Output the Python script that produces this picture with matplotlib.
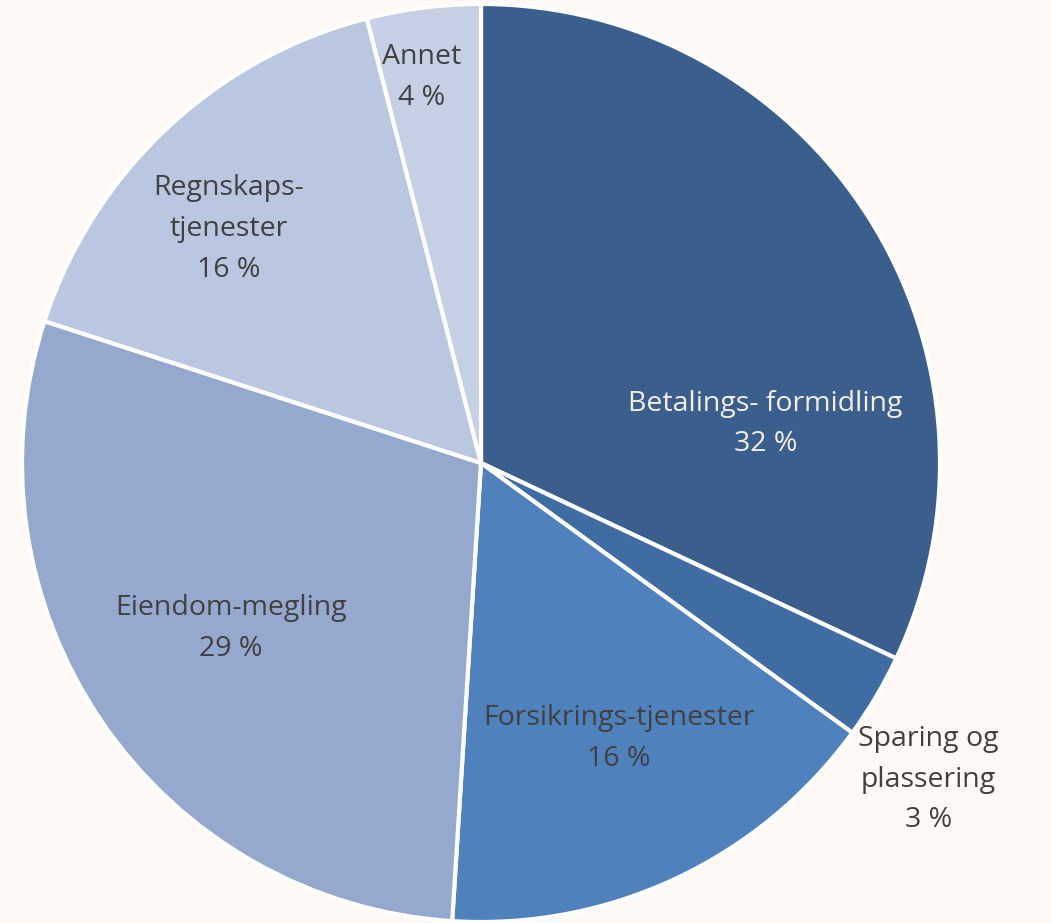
import numpy as np
import matplotlib.pyplot as plt

plt.rcParams['font.family'] = ['Open Sans', 'DejaVu Sans']

# Andel av inntekter
labels = ['Betalings- formidling', 'Sparing og\nplassering', 'Forsikrings-tjenester',
          'Eiendom-megling', 'Regnskaps-\ntjenester', 'Annet']
values = [32, 3, 16, 29, 16, 4]
colors = ['#3A5F8C', '#3E6CA3', '#4F81BD', '#95A9CE', '#B9C7E0', '#C5D0E4']
text_colors = ['#F2EEE6', '#404040', '#404040', '#404040', '#404040', '#404040']

# label placement relative to pie centre, in units of radius
label_pos = [(0.62, 0.085), (0.975, -0.69), (0.30, -0.60), (-0.545, -0.36),
             (-0.55, 0.51), (-0.13, 0.84)]

bg = '#FEF9F5'
fig = plt.figure(figsize=(10.51, 9.23), dpi=100, facecolor=bg)
ax = fig.add_axes([0, 0, 1, 1])
ax.set_facecolor(bg)

cx, cy, r = 481, 460, 459
ax.pie(values, colors=colors, startangle=90, counterclock=False,
       center=(cx, cy), radius=r,
       wedgeprops=dict(edgecolor='white', linewidth=3))

for lab, v, (dx, dy), tc in zip(labels, values, label_pos, text_colors):
    ax.text(cx + dx * r, cy + dy * r, f'{lab}\n{v} %', ha='center', va='center',
            fontsize=20.5, color=tc, linespacing=1.6)

ax.set_xlim(0, 1051)
ax.set_ylim(0, 923)
ax.set_aspect('equal')
ax.axis('off')

fig.savefig('out.png', dpi=100, facecolor=bg)
